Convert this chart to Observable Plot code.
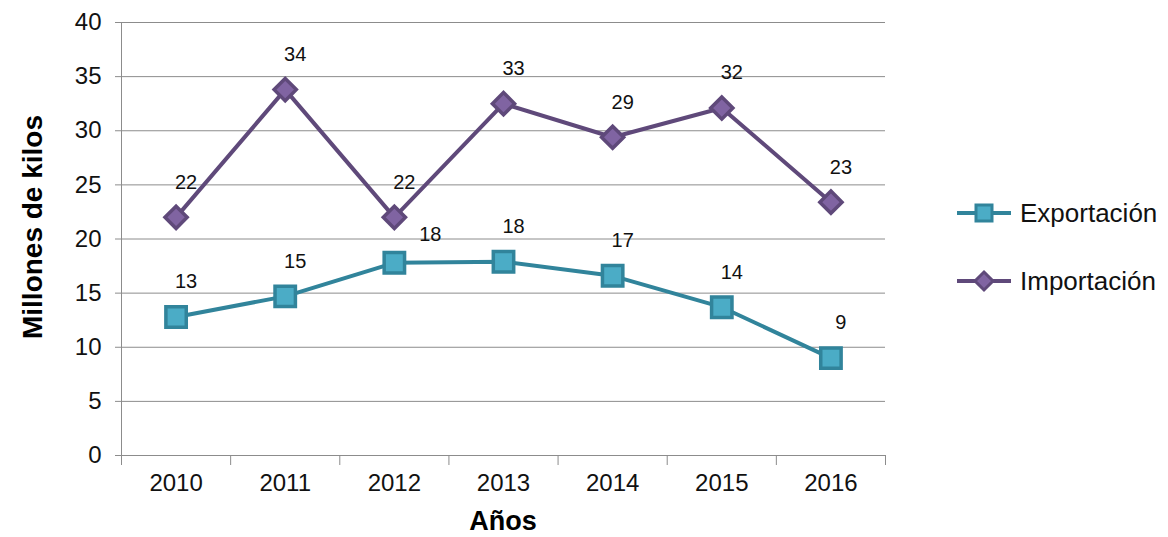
<!DOCTYPE html>
<html>
<head>
<meta charset="utf-8">
<script src="https://cdn.jsdelivr.net/npm/d3@7"></script>
<script src="https://cdn.jsdelivr.net/npm/@observablehq/plot@0.6"></script>
<style>
  html, body { margin: 0; padding: 0; background: #fff; }
  #wrap { position: relative; width: 1168px; height: 537px; font-family: "Liberation Sans", Arial, sans-serif; }
  #wrap > svg { position: absolute; left: 0; top: 0; }
  #legend { position: absolute; left: 955px; top: 196px; }
  .item { display: flex; align-items: center; height: 34px; margin-bottom: 34px; font-size: 26px; color: #111; }
  .item svg { margin-right: 5px; }
</style>
</head>
<body>
<div id="wrap"><div id="legend"></div></div>
<script>
const years = [2010, 2011, 2012, 2013, 2014, 2015, 2016];
const series = ["Exportación", "Importación"];
const exportacion = [12.8, 14.7, 17.8, 17.9, 16.6, 13.7, 9.0];
const importacion = [22.0, 33.8, 22.0, 32.5, 29.4, 32.1, 23.4];
const yTicks = [0, 5, 10, 15, 20, 25, 30, 35, 40];
const xBoundaries = [2009.5, 2010.5, 2011.5, 2012.5, 2013.5, 2014.5, 2015.5, 2016.5];
const yTitle = "Millones de kilos";
const xTitle = "Años";

const colors = {
  "Exportación": {line: "#31849B", fill: "#4BACC6", symbol: "square", r: 11.5},
  "Importación": {line: "#5F497A", fill: "#8064A2", symbol: "diamond2", r: 10}
};

const data = [];
years.forEach((y, i) => {
  data.push({year: y, serie: series[0], value: exportacion[i]});
  data.push({year: y, serie: series[1], value: importacion[i]});
});

const font = "'Liberation Sans', Arial, sans-serif";

const marks = [
  Plot.ruleY(yTicks, {stroke: "#8c8c8c", strokeWidth: 1}),
  Plot.frame({anchor: "left", stroke: "#8c8c8c"}),
  Plot.axisY(yTicks, {tickSize: 6, tickPadding: 14, fontSize: 24, stroke: "#8c8c8c", label: null, color: "#111"}),
  Plot.axisX(xBoundaries, {tickSize: 10, tickFormat: () => "", stroke: "#8c8c8c", label: null}),
  Plot.axisX(years, {tickSize: 0, tickPadding: 18, fontSize: 24, tickFormat: d => String(d), label: null})
];

for (const s of series) {
  const c = colors[s];
  const d = data.filter(e => e.serie === s);
  marks.push(Plot.line(d, {x: "year", y: "value", stroke: c.line, strokeWidth: 4}));
  marks.push(Plot.dot(d, {x: "year", y: "value", symbol: c.symbol, r: c.r, fill: c.fill, stroke: c.line, strokeWidth: 3.5}));
  // value labels (the 2012 export label is nudged aside, as in the original, to avoid the marker)
  const crowded = e => s === "Exportación" && e.year === 2012;
  marks.push(Plot.text(d.filter(e => !crowded(e)), {x: "year", y: "value", text: e => String(Math.round(e.value)), dx: 10, dy: -35, fontSize: 20, fill: "#111"}));
  marks.push(Plot.text(d.filter(crowded), {x: "year", y: "value", text: e => String(Math.round(e.value)), dx: 36, dy: -28, fontSize: 20, fill: "#111"}));
}

const chart = Plot.plot({
  width: 1168,
  height: 537,
  marginLeft: 121,
  marginRight: 283,
  marginTop: 22,
  marginBottom: 82,
  style: {fontFamily: font, background: "#fff", color: "#111"},
  x: {type: "linear", domain: [2009.5, 2016.5]},
  y: {domain: [0, 40]},
  marks
});
document.getElementById("wrap").prepend(chart);

// axis titles
const svgSel = d3.select(chart);
svgSel.append("text")
  .attr("transform", "translate(42,227) rotate(-90)")
  .attr("text-anchor", "middle")
  .attr("font-family", font)
  .attr("font-size", 28)
  .attr("font-weight", "bold")
  .attr("fill", "#000")
  .text(yTitle);
svgSel.append("text")
  .attr("x", 503)
  .attr("y", 530)
  .attr("text-anchor", "middle")
  .attr("font-family", font)
  .attr("font-size", 27)
  .attr("font-weight", "bold")
  .attr("fill", "#000")
  .text(xTitle);

const legend = d3.select("#legend");
for (const s of series) {
  const c = colors[s];
  const item = legend.append("div").attr("class", "item");
  const svg = item.append("svg").attr("width", 60).attr("height", 30);
  svg.append("line").attr("x1", 2).attr("x2", 56).attr("y1", 15).attr("y2", 15).attr("stroke", c.line).attr("stroke-width", 4);
  if (c.symbol === "square") {
    svg.append("rect").attr("x", 21).attr("y", 7).attr("width", 16).attr("height", 16).attr("fill", c.fill).attr("stroke", c.line).attr("stroke-width", 3);
  } else {
    svg.append("path").attr("d", "M29,6 L38,15 L29,24 L20,15 Z").attr("fill", c.fill).attr("stroke", c.line).attr("stroke-width", 3);
  }
  item.append("span").text(s);
}
</script>
</body>
</html>
